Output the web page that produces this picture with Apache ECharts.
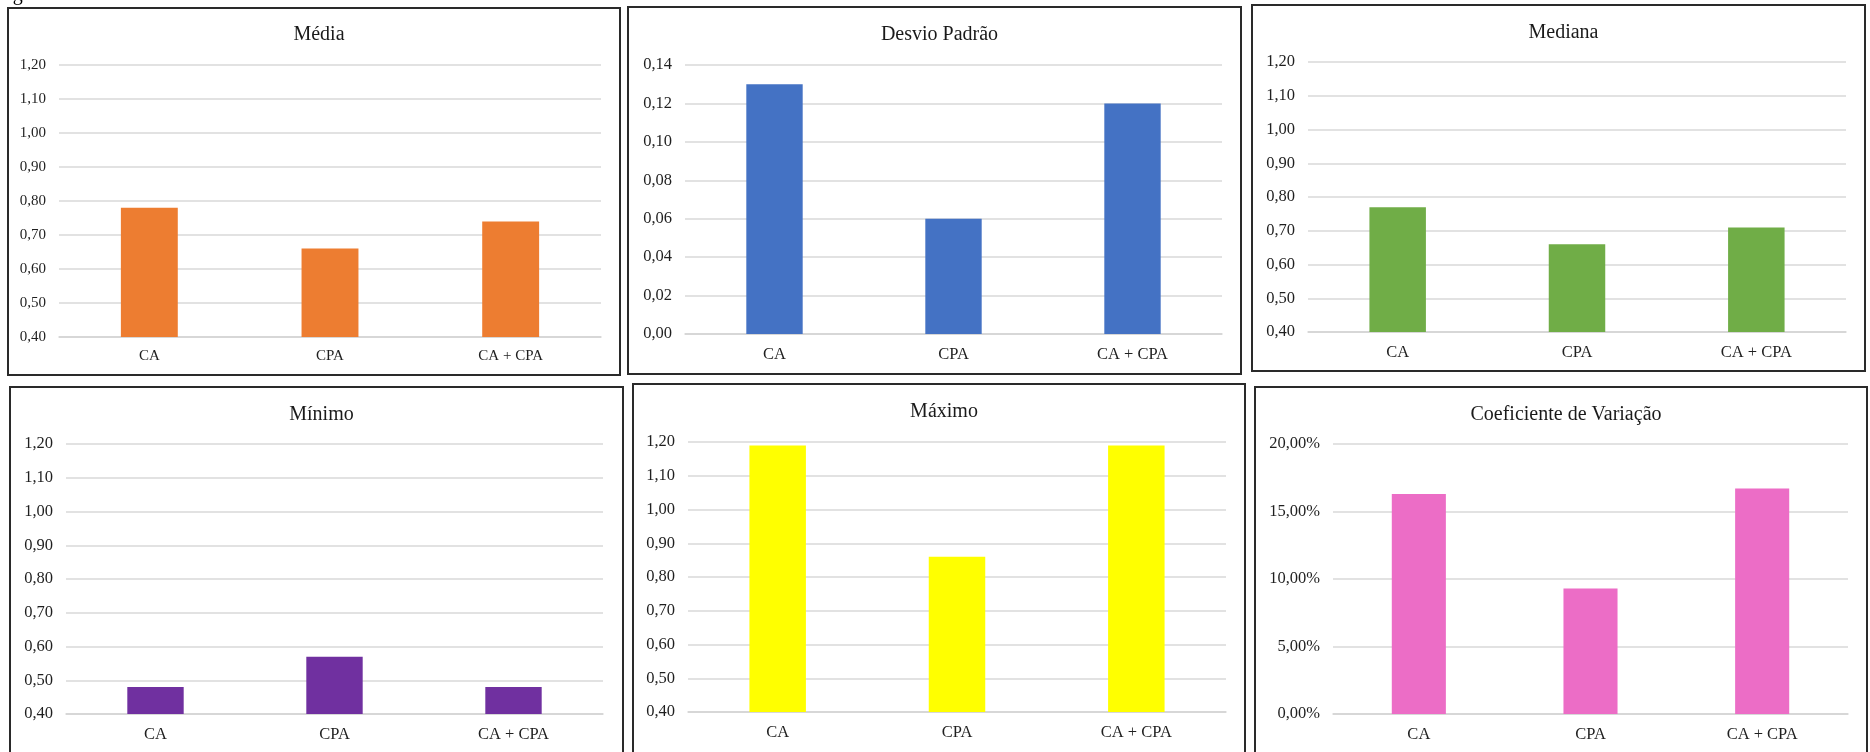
<!DOCTYPE html>
<html>
<head>
<meta charset="utf-8">
<script src="https://cdn.jsdelivr.net/npm/echarts@6/dist/echarts.min.js"></script>
<style>
  html, body { margin: 0; padding: 0; background: #ffffff; }
  #chart { width: 1870px; height: 752px; }
</style>
</head>
<body>
<div id="chart"></div>
<script>
// ---- Data ----
const categories = ['CA', 'CPA', 'CA + CPA'];
const panelTitles = ['Média', 'Desvio Padrão', 'Mediana', 'Mínimo', 'Máximo', 'Coeficiente de Variação'];
const mediaValues = [0.78, 0.66, 0.74];
const desvioValues = [0.13, 0.06, 0.12];
const medianaValues = [0.77, 0.66, 0.71];
const minimoValues = [0.48, 0.57, 0.48];
const maximoValues = [1.19, 0.86, 1.19];
const cvValues = [16.3, 9.3, 16.7]; // percent
const axisRanges = [
  { min: 0.4, max: 1.2, interval: 0.1 },
  { min: 0, max: 0.14, interval: 0.02 },
  { min: 0.4, max: 1.2, interval: 0.1 },
  { min: 0.4, max: 1.2, interval: 0.1 },
  { min: 0.4, max: 1.2, interval: 0.1 },
  { min: 0, max: 20, interval: 5 }
];
const seriesValues = [mediaValues, desvioValues, medianaValues, minimoValues, maximoValues, cvValues];

// ---- Layout / style ----
const colors = ['#ED7D31', '#4472C4', '#70AD47', '#7030A0', '#FFFF00', '#EC6DC6'];
const panels = [
  { box: [8, 8, 612, 367],    grid: [59, 65, 542, 272],   titleY: 20, tick: 15 },
  { box: [628, 7, 613, 367],  grid: [685, 65, 537, 269],  titleY: 20, tick: 16.5 },
  { box: [1252, 5, 613, 366], grid: [1308, 62, 538, 270], titleY: 18, tick: 16.5 },
  { box: [10, 387, 613, 380], grid: [66, 444, 537, 270],  titleY: 400, tick: 16.5 },
  { box: [633, 384, 612, 380], grid: [688, 442, 538, 270], titleY: 397, tick: 16.5 },
  { box: [1255, 387, 612, 380], grid: [1333, 444, 515, 270], titleY: 400, tick: 16.5 }
];
const FONT = '"Liberation Serif", "Times New Roman", serif';

function fmt(i) {
  return function (v) {
    if (i === 5) return v.toFixed(2).replace('.', ',') + '%';
    return v.toFixed(2).replace('.', ',');
  };
}

const option = {
  backgroundColor: '#ffffff',
  animation: false,
  title: [],
  grid: [],
  xAxis: [],
  yAxis: [],
  series: [],
  graphic: []
};

panels.forEach(function (p, i) {
  const cx = p.box[0] + p.box[2] / 2;
  option.title.push({
    text: panelTitles[i],
    left: cx,
    top: p.titleY,
    textAlign: 'center',
    textStyle: { fontFamily: FONT, fontSize: 20, fontWeight: 'normal', color: '#1a1a1a' }
  });
  option.grid.push({ left: p.grid[0], top: p.grid[1], width: p.grid[2], height: p.grid[3], containLabel: false });
  option.xAxis.push({
    type: 'category',
    gridIndex: i,
    data: categories,
    axisLine: { show: true, lineStyle: { color: '#D4D4D4', width: 1.5 } },
    axisTick: { show: false },
    axisLabel: { fontFamily: FONT, fontSize: p.tick, color: '#1f1f1f', margin: 12 }
  });
  option.yAxis.push({
    type: 'value',
    gridIndex: i,
    min: axisRanges[i].min,
    max: axisRanges[i].max,
    interval: axisRanges[i].interval,
    axisLine: { show: false },
    axisTick: { show: false },
    splitLine: { show: true, lineStyle: { color: '#D9D9D9', width: 1.5 } },
    axisLabel: { fontFamily: FONT, fontSize: p.tick, color: '#1f1f1f', margin: 13, formatter: fmt(i) }
  });
  option.series.push({
    type: 'bar',
    xAxisIndex: i,
    yAxisIndex: i,
    data: seriesValues[i],
    barWidth: '31.5%',
    itemStyle: { color: colors[i] }
  });
  option.graphic.push({
    type: 'rect',
    shape: { x: p.box[0], y: p.box[1], width: p.box[2], height: p.box[3] },
    style: { fill: 'none', stroke: '#2a2a2a', lineWidth: 2 },
    silent: true,
    z: 100
  });
});

option.graphic.push({
  type: 'text',
  style: { text: 'Figura', x: -4, y: 5, verticalAlign: 'bottom', font: '20px ' + FONT, fill: '#000' },
  silent: true
});

const chart = echarts.init(document.getElementById('chart'), null, { renderer: 'canvas' });
chart.setOption(option);
</script>
</body>
</html>
